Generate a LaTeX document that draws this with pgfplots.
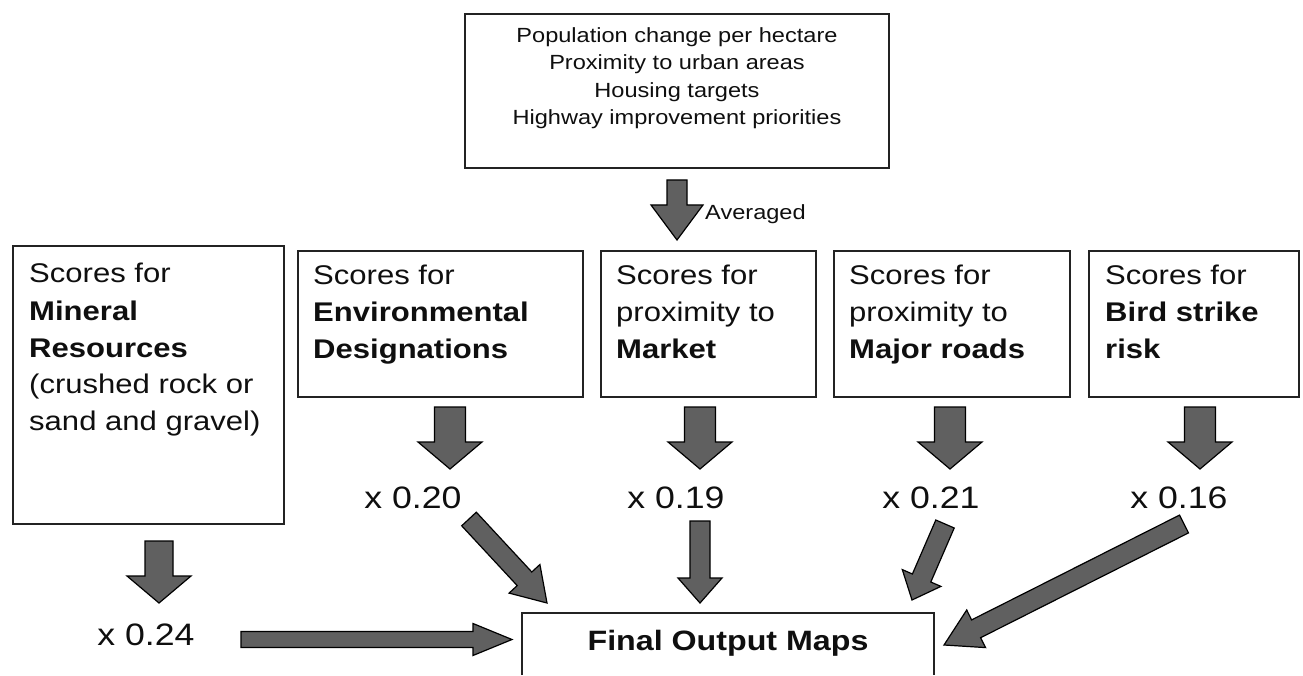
\documentclass[border=0pt]{standalone}
\usepackage{pgfplots}
\pgfplotsset{compat=1.18}
\usepackage{fontspec}
\setmainfont{Liberation Sans}[FakeStretch=1.15]
\definecolor{arr}{RGB}{96,96,96}
\definecolor{edge}{RGB}{35,35,35}
\definecolor{txt}{RGB}{15,15,15}
\newcommand\rowfont{\fontsize{27}{32}\selectfont}
\newcommand\topfont{\fontsize{20.5}{26}\selectfont}
\newcommand\lblfont{\fontsize{31}{36}\selectfont}
\begin{document}
\begin{tikzpicture}
\begin{axis}[x=1pt,y=1pt,y dir=reverse,xmin=0,xmax=1303,ymin=0,ymax=675,
  hide axis,clip=false,scale only axis]
\path (axis cs:0,0) rectangle (axis cs:1303,675);
% boxes
\addplot[draw=edge,line width=2pt] coordinates {(465,14) (889,14) (889,168) (465,168)} -- cycle;
\addplot[draw=edge,line width=2pt] coordinates {(13,246) (284,246) (284,524) (13,524)} -- cycle;
\addplot[draw=edge,line width=2pt] coordinates {(298,251) (583,251) (583,397) (298,397)} -- cycle;
\addplot[draw=edge,line width=2pt] coordinates {(601,251) (816,251) (816,397) (601,397)} -- cycle;
\addplot[draw=edge,line width=2pt] coordinates {(834,251) (1070,251) (1070,397) (834,397)} -- cycle;
\addplot[draw=edge,line width=2pt] coordinates {(1089,251) (1299,251) (1299,397) (1089,397)} -- cycle;
\addplot[draw=edge,line width=2pt] coordinates {(522,675) (522,613) (934,613) (934,675)};
% arrows
\tikzset{blk/.style={fill=arr,draw=black,line width=1.2pt,line join=miter}}
\addplot[blk] coordinates {(667,180) (667,205) (651,205) (677,240) (703,205) (687,205) (687,180)} -- cycle;
\addplot[blk] coordinates {(434.5,407) (434.5,442) (418,442) (450,469) (482,442) (465.5,442) (465.5,407)} -- cycle;
\addplot[blk] coordinates {(684.5,407) (684.5,442) (668,442) (700,469) (732,442) (715.5,442) (715.5,407)} -- cycle;
\addplot[blk] coordinates {(934.5,407) (934.5,442) (918,442) (950,469) (982,442) (965.5,442) (965.5,407)} -- cycle;
\addplot[blk] coordinates {(1184.5,407) (1184.5,442) (1168,442) (1200,469) (1232,442) (1215.5,442) (1215.5,407)} -- cycle;
\addplot[blk] coordinates {(145,541) (145,576) (127,576) (159,603) (191,576) (173,576) (173,541)} -- cycle;
\addplot[blk] coordinates {(241,631.5) (473,631.5) (473,623.5) (512,639.5) (473,655.5) (473,647.5) (241,647.5)} -- cycle;
\addplot[blk] coordinates {(690,521) (690,578) (678,578) (700,603) (722,578) (710,578) (710,521)} -- cycle;
\addplot[blk] coordinates {(461.7,525.8) (517.2,585.6) (509.1,593.1) (547,603) (539.9,564.5) (531.8,572.0) (476.3,512.2)} -- cycle;
\addplot[blk] coordinates {(935.8,520.0) (912.4,574.0) (902.3,569.6) (912,600) (940.9,586.4) (930.8,582.0) (954.2,528.0)} -- cycle;
\addplot[blk] coordinates {(1179.5,515.1) (971.6,619.9) (966.7,610.0) (944,645) (985.6,647.6) (980.6,637.7) (1188.5,532.9)} -- cycle;
% top box text
\node[anchor=base,font=\topfont,text=txt,inner sep=0pt] at (axis cs:677,43) {Population change per hectare};
\node[anchor=base,font=\topfont,text=txt,inner sep=0pt] at (axis cs:677,70) {Proximity to urban areas};
\node[anchor=base,font=\topfont,text=txt,inner sep=0pt] at (axis cs:677,98) {Housing targets};
\node[anchor=base,font=\topfont,text=txt,inner sep=0pt] at (axis cs:677,125) {Highway improvement priorities};
\node[anchor=base west,font=\topfont,text=txt,inner sep=0pt] at (axis cs:705,220) {Averaged};
% box 1
\node[anchor=base west,font=\rowfont,text=txt,inner sep=0pt] at (axis cs:29,283) {Scores for};
\node[anchor=base west,font=\rowfont\bfseries,text=txt,inner sep=0pt] at (axis cs:29,320) {Mineral};
\node[anchor=base west,font=\rowfont\bfseries,text=txt,inner sep=0pt] at (axis cs:29,357) {Resources};
\node[anchor=base west,font=\rowfont,text=txt,inner sep=0pt] at (axis cs:29,393) {(crushed rock or};
\node[anchor=base west,font=\rowfont,text=txt,inner sep=0pt] at (axis cs:29,430) {sand and gravel)};
% box 2
\node[anchor=base west,font=\rowfont,text=txt,inner sep=0pt] at (axis cs:313,284) {Scores for};
\node[anchor=base west,font=\rowfont\bfseries,text=txt,inner sep=0pt] at (axis cs:313,321) {Environmental};
\node[anchor=base west,font=\rowfont\bfseries,text=txt,inner sep=0pt] at (axis cs:313,358) {Designations};
% box 3
\node[anchor=base west,font=\rowfont,text=txt,inner sep=0pt] at (axis cs:616,284) {Scores for};
\node[anchor=base west,font=\rowfont,text=txt,inner sep=0pt] at (axis cs:616,321) {proximity to};
\node[anchor=base west,font=\rowfont\bfseries,text=txt,inner sep=0pt] at (axis cs:616,358) {Market};
% box 4
\node[anchor=base west,font=\rowfont,text=txt,inner sep=0pt] at (axis cs:849,284) {Scores for};
\node[anchor=base west,font=\rowfont,text=txt,inner sep=0pt] at (axis cs:849,321) {proximity to};
\node[anchor=base west,font=\rowfont\bfseries,text=txt,inner sep=0pt] at (axis cs:849,358) {Major roads};
% box 5
\node[anchor=base west,font=\rowfont,text=txt,inner sep=0pt] at (axis cs:1105,284) {Scores for};
\node[anchor=base west,font=\rowfont\bfseries,text=txt,inner sep=0pt] at (axis cs:1105,321) {Bird strike};
\node[anchor=base west,font=\rowfont\bfseries,text=txt,inner sep=0pt] at (axis cs:1105,358) {risk};
% weights
\node[anchor=base,font=\lblfont,text=txt,inner sep=0pt] at (axis cs:146,645) {x 0.24};
\node[anchor=base,font=\lblfont,text=txt,inner sep=0pt] at (axis cs:413,508) {x 0.20};
\node[anchor=base,font=\lblfont,text=txt,inner sep=0pt] at (axis cs:676,508) {x 0.19};
\node[anchor=base,font=\lblfont,text=txt,inner sep=0pt] at (axis cs:931,508) {x 0.21};
\node[anchor=base,font=\lblfont,text=txt,inner sep=0pt] at (axis cs:1179,508) {x 0.16};
% final
\node[anchor=base,font=\fontsize{28}{32}\selectfont\bfseries,text=txt,inner sep=0pt] at (axis cs:728,650) {Final Output Maps};
\end{axis}
\end{tikzpicture}
\end{document}
